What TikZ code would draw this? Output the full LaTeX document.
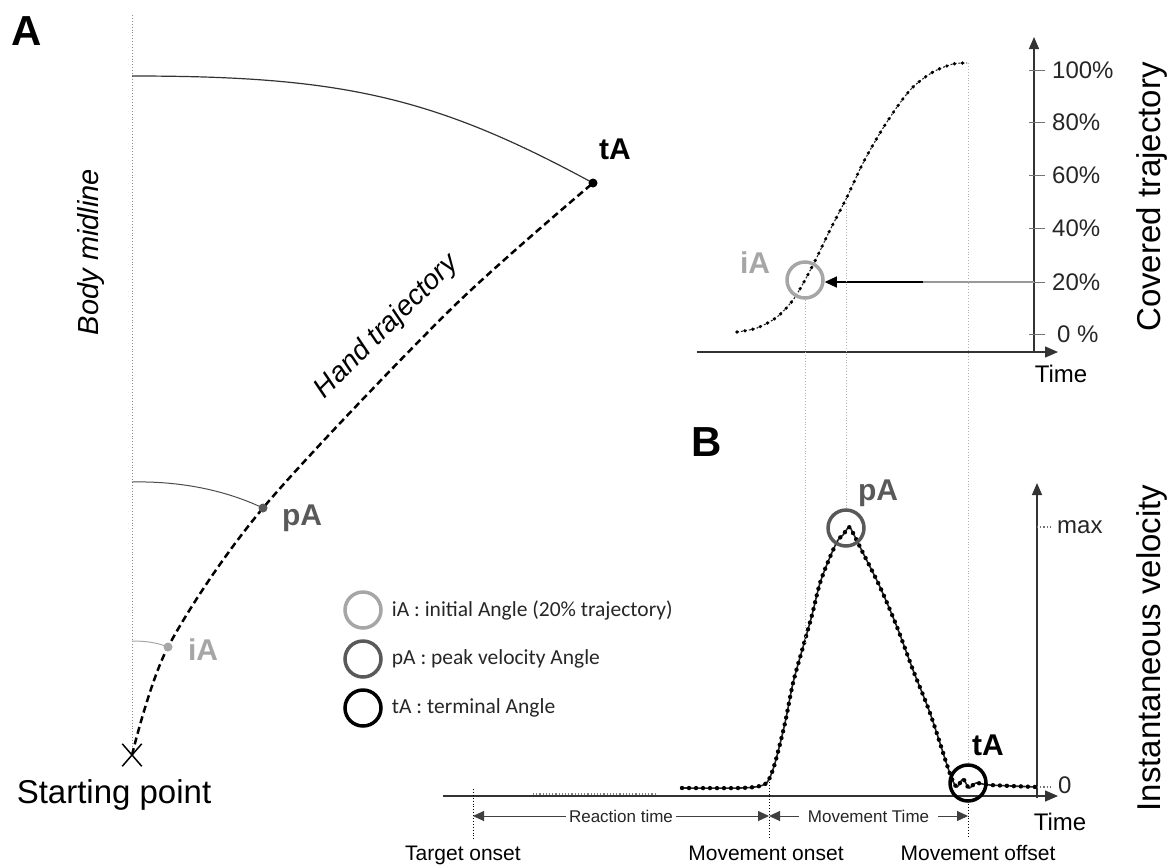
\documentclass[tikz,border=0pt]{standalone}
\usepackage{fontspec}
\setmainfont{Liberation Sans}
\newfontfamily\legendfont{Carlito}
\usetikzlibrary{arrows.meta,positioning,shapes.misc}

\tikzset{
  ax/.style={black!80,line width=1.3pt,-{Triangle[length=13pt,width=11pt]}},
  guide/.style={black!30,dotted,line width=0.9pt},
  evline/.style={black,dotted,line width=0.9pt},
  ring/.style={circle,inner sep=0pt,minimum size=36pt,line width=3.5pt},
  tipdot/.style={circle,fill,inner sep=0pt,minimum size=9pt},
  axtitle/.style={font=\fontsize{33}{36}\selectfont},
  anglbl/.style={font=\fontsize{30}{32}\selectfont\bfseries},
  panel/.style={font=\fontsize{42}{44}\selectfont\bfseries},
  ticklbl/.style={font=\fontsize{24}{26}\selectfont,text=black!85,anchor=west,inner sep=0pt},
  evt/.style={font=\fontsize{21}{23}\selectfont,anchor=base,inner sep=0pt},
  timespan/.style={black!75,line width=1pt,{Triangle[length=11pt,width=10pt]}-{Triangle[length=11pt,width=10pt]}},
  spantxt/.style={font=\fontsize{17}{19}\selectfont,fill=white,inner ysep=2pt,text=black!85},
  legtxt/.style={font=\legendfont\fontsize{21.5}{23}\selectfont,text=black!85,inner sep=0pt},
}

\begin{document}
\begin{tikzpicture}[x=1pt,y=-1pt]
          \useasboundingbox (0,0) rectangle (1174,865);

          \coordinate (S) at (132,755);
          \coordinate (iA) at (168,647);
          \coordinate (pA) at (263,508);
          \coordinate (tA) at (593,183);

          \node[panel] (Alab) at (27,31) {A};
          \draw[guide,black!45] (132,15) -- (S);
          \node[font=\fontsize{29}{31}\selectfont\itshape,rotate=90] (mid) at (91,252) {Body midline};

          \draw[black!80,line width=1.2pt] (132,76) .. controls (340,76) and (433,96) .. (tA);
          \draw[black!70,line width=1pt] (132,482) .. controls (180,481) and (225,490) .. (pA);
          \draw[black!35,line width=1pt] (132,641) .. controls (148,641) and (158,643) .. (iA);
          \draw[line width=2.5pt,dash pattern=on 7pt off 4pt] plot[smooth] coordinates {(S) (iA) (pA) (450,310) (tA)};
          \node[font=\fontsize{28}{30}\selectfont\itshape,rotate=45] (hand) at (387,327) {Hand trajectory};

          \node[tipdot,black] (tAdot) at (tA) {};
          \node[tipdot,black!65] (pAdot) at (pA) {};
          \node[tipdot,black!35] (iAdot) at (iA) {};
          \node[anglbl] (tAlbl) at (615,149) {tA};
          \node[anglbl,text=black!65] (pAlbl) at (302,518) {pA};
          \node[anglbl,text=black!35] (iAlbl) at (203,650) {iA};

          \node[cross out,draw,minimum width=18pt,minimum height=21pt,inner sep=0pt,line width=1.5pt] (X) at (S) {};
          \node[axtitle,anchor=base] (start) at (114,803) {Starting point};

          \draw[ax] (697,352) -- (1058,352);
          \draw[ax,-{Triangle[length=12pt,width=10pt]}] (1034,352) -- (1034,37);
          \foreach \p/\y in {100/70,80/122,60/175,40/228,20/282} {
            \draw[black!55,line width=1pt] (1029,\y) -- (1045,\y);
            \node[ticklbl] (c\p) at (1052,\y) {\p\%};
          }
          \draw[black!55,line width=1pt] (1029,334) -- (1045,334);
          \node[ticklbl] (c0) at (1057,334) {0 \%};
          \node[axtitle,rotate=90] (covered) at (1152,197) {Covered trajectory};
          \node[font=\fontsize{24}{26}\selectfont,anchor=base] (time1) at (1061,382) {Time};

          \draw[black!85,line width=1.1pt,dash pattern=on 2pt off 2pt,
            postaction={draw,black,dash pattern=on 0pt off 8pt,line cap=round,line width=3.6pt}]
            plot[smooth] coordinates {(737,332) (757,328) (777,317) (793,300) (805,280) (817,257) (830,230) (847,197) (863,163) (880,133) (897,107) (913,87) (933,72) (953,64) (967,63)};

          \node[ring,draw=black!35] (iAc) at (805,280) {};
          \node[anglbl,text=black!35] (iAlbl2) at (755,263) {iA};
          \coordinate (p20) at (1034,282);
          \coordinate (m20) at (923,282);
          \draw[black!40,line width=1.2pt] (p20) -- (m20);
          \draw[black,line width=1.2pt,-{Triangle[length=12pt,width=11pt]}] (m20) -- (iAc.east |- m20);

          \node[panel] (Blab) at (707,442) {B};
          \draw[ax] (443,796) -- (1058,796);
          \draw[black!50,dotted,line width=1.2pt] (533,794) -- (655,794);
          \draw[ax,-{Triangle[length=12pt,width=10pt]}] (1037,798) -- (1037,483);
          \draw[black!55,dotted,line width=1.2pt] (1037,527) -- (1052,527);
          \node[ticklbl] (vmax) at (1057,527) {max};
          \draw[black!55,dotted,line width=1.2pt] (1037,787) -- (1052,787);
          \node[ticklbl] (vzero) at (1058,785) {0};
          \node[axtitle,rotate=90] (inst) at (1152,648) {Instantaneous velocity};
          \node[font=\fontsize{24}{26}\selectfont,anchor=base] (time2) at (1060,830) {Time};

          \draw[black!85,line width=1.6pt,
            postaction={draw,black,dash pattern=on 0pt off 7pt,line cap=round,line width=4.4pt}]
            plot[smooth] coordinates {(682,788) (740,788) (760,786) (768,781) (775,763) (785,723) (793,683) (803,647) (812,615) (820,583) (830,557) (838,540) (843,535) (849,527) (853,533) (863,553) (880,587) (897,627) (913,670) (930,713) (947,765) (952,779) (957,787) (963,779) (969,788) (976,783) (990,785) (1037,787)};

          \node[ring,draw=black!65] (pAc) at (846,528) {};
          \node[anglbl,text=black!65] (pAlbl2) at (878,493) {pA};
          \node[ring,draw=black] (tAc) at (968,783) {};
          \node[anglbl] (tAlbl2) at (988,745) {tA};

          \draw[guide] (iAc.south) -- (805,643);
          \draw[guide] (846,200) -- (pAc.north);
          \draw[guide] (968,63) -- (tAc.north);

          \coordinate (tgt) at (473,816);
          \coordinate (mon) at (769,816);
          \coordinate (moff) at (968,816);
          \draw[evline] (473,789) -- (473,840);
          \draw[evline] (769,779) -- (769,838);
          \draw[evline] (968,801) -- (968,838);
          \draw[timespan] (tgt) -- node[spantxt,inner xsep=3pt] (rt) {Reaction time} (mon);
          \draw[timespan] (mon) -- node[spantxt,inner xsep=9pt] (mt) {Movement Time} (moff);
          \node[evt] (tgtlbl) at (463,860) {Target onset};
          \node[evt] (onlbl) at (766,860) {Movement onset};
          \node[evt] (offlbl) at (978,860) {Movement offset};

          \node[ring,draw=black!35] (lgi) at (363,610) {};
          \node[legtxt,right=9pt of lgi] (lgitxt) {iA : initial Angle (20\% trajectory)};
          \node[ring,draw=black!65] (lgp) at (363,659) {};
          \node[legtxt,right=9pt of lgp] (lgptxt) {pA : peak velocity Angle};
          \node[ring,draw=black] (lgt) at (363,708) {};
          \node[legtxt,right=9pt of lgt] (lgttxt) {tA : terminal Angle};
\end{tikzpicture}
\end{document}
